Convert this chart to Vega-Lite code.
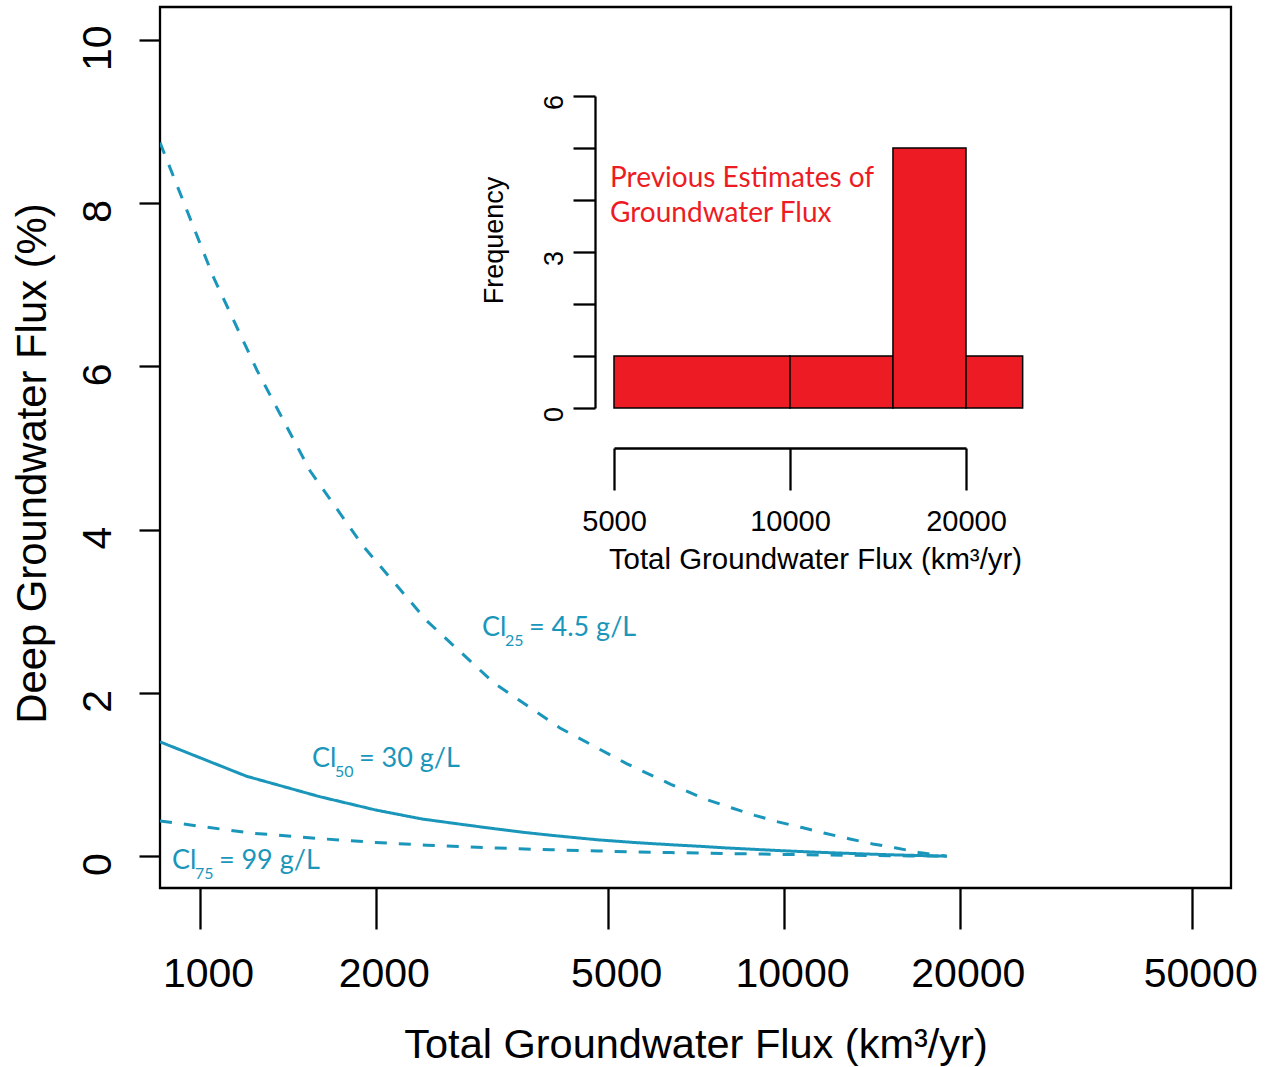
{
  "$schema": "https://vega.github.io/schema/vega-lite/v6.json",
  "width": 1071,
  "height": 881,
  "autosize": {"type": "none"},
  "padding": {"left": 160, "top": 7, "right": 39, "bottom": 179},
  "background": "white",
  "config": {
    "view": {"stroke": "black", "strokeWidth": 2.3},
    "axis": {
      "grid": false,
      "domainColor": "black",
      "tickColor": "black",
      "labelColor": "black",
      "titleColor": "black",
      "tickWidth": 2.3,
      "domainWidth": 2.3,
      "labelFont": "Liberation Sans",
      "titleFont": "Liberation Sans",
      "titleFontWeight": "normal",
      "labelFlush": false,
      "labelOverlap": false
    }
  },
  "layer": [
    {
      "encoding": {
        "x": {
          "field": "x",
          "type": "quantitative",
          "scale": {"type": "log", "domain": [854, 58270], "nice": false, "zero": false},
          "axis": {
            "orient": "bottom",
            "values": [1000, 2000, 5000, 10000, 20000, 50000],
            "format": "d",
            "domain": false,
            "tickSize": 41,
            "labelFontSize": 41,
            "labelBaseline": "alphabetic",
            "labelPadding": 57,
            "labelOffset": 8,
            "title": "Total Groundwater Flux (km³/yr)",
            "titleFontSize": 41.5,
            "titleBaseline": "alphabetic",
            "titleY": 169
          }
        },
        "y": {
          "field": "y",
          "type": "quantitative",
          "scale": {"domain": [-0.39, 10.4], "nice": false, "zero": false},
          "axis": {
            "orient": "left",
            "values": [0, 2, 4, 6, 8, 10],
            "format": "d",
            "domain": false,
            "tickSize": 21,
            "labelAngle": -90,
            "labelAlign": "center",
            "labelBaseline": "alphabetic",
            "labelPadding": 29,
            "labelOffset": 8,
            "labelFontSize": 41,
            "title": "Deep Groundwater Flux (%)",
            "titleFontSize": 41.8,
            "titleAngle": -90,
            "titleAlign": "center",
            "titleBaseline": "alphabetic",
            "titleX": -115,
            "titleY": 456
          }
        }
      },
      "layer": [
        {
          "data": {"values": [
            {"series": "Cl25", "x": 854, "y": 8.74}, {"series": "Cl25", "x": 1053, "y": 7.1}, {"series": "Cl25", "x": 1252, "y": 5.95}, {"series": "Cl25", "x": 1543, "y": 4.72}, {"series": "Cl25", "x": 1901, "y": 3.8}, {"series": "Cl25", "x": 2447, "y": 2.88}, {"series": "Cl25", "x": 3188, "y": 2.12}, {"series": "Cl25", "x": 4134, "y": 1.57}, {"series": "Cl25", "x": 5386, "y": 1.13}, {"series": "Cl25", "x": 6400, "y": 0.88}, {"series": "Cl25", "x": 7324, "y": 0.7}, {"series": "Cl25", "x": 8147, "y": 0.59}, {"series": "Cl25", "x": 8913, "y": 0.5}, {"series": "Cl25", "x": 9766, "y": 0.42}, {"series": "Cl25", "x": 10735, "y": 0.35}, {"series": "Cl25", "x": 11755, "y": 0.28}, {"series": "Cl25", "x": 12972, "y": 0.21}, {"series": "Cl25", "x": 14191, "y": 0.15}, {"series": "Cl25", "x": 15560, "y": 0.1}, {"series": "Cl25", "x": 17030, "y": 0.045}, {"series": "Cl25", "x": 19000, "y": 0},
            {"series": "Cl50", "x": 854, "y": 1.4}, {"series": "Cl50", "x": 1200, "y": 0.98}, {"series": "Cl50", "x": 1600, "y": 0.73}, {"series": "Cl50", "x": 2000, "y": 0.565}, {"series": "Cl50", "x": 2400, "y": 0.455}, {"series": "Cl50", "x": 2800, "y": 0.39}, {"series": "Cl50", "x": 3200, "y": 0.335}, {"series": "Cl50", "x": 3600, "y": 0.29}, {"series": "Cl50", "x": 4000, "y": 0.255}, {"series": "Cl50", "x": 4800, "y": 0.2}, {"series": "Cl50", "x": 5600, "y": 0.165}, {"series": "Cl50", "x": 6400, "y": 0.14}, {"series": "Cl50", "x": 7200, "y": 0.12}, {"series": "Cl50", "x": 8000, "y": 0.1}, {"series": "Cl50", "x": 9200, "y": 0.078}, {"series": "Cl50", "x": 10400, "y": 0.06}, {"series": "Cl50", "x": 11600, "y": 0.046}, {"series": "Cl50", "x": 12800, "y": 0.035}, {"series": "Cl50", "x": 14000, "y": 0.025}, {"series": "Cl50", "x": 15200, "y": 0.017}, {"series": "Cl50", "x": 16400, "y": 0.011}, {"series": "Cl50", "x": 17600, "y": 0.005}, {"series": "Cl50", "x": 19000, "y": 0},
            {"series": "Cl75", "x": 854, "y": 0.43}, {"series": "Cl75", "x": 935, "y": 0.394}, {"series": "Cl75", "x": 1218, "y": 0.284}, {"series": "Cl75", "x": 1600, "y": 0.215}, {"series": "Cl75", "x": 2000, "y": 0.168}, {"series": "Cl75", "x": 2447, "y": 0.135}, {"series": "Cl75", "x": 2800, "y": 0.116}, {"series": "Cl75", "x": 3225, "y": 0.1}, {"series": "Cl75", "x": 3600, "y": 0.088}, {"series": "Cl75", "x": 4000, "y": 0.078}, {"series": "Cl75", "x": 4800, "y": 0.063}, {"series": "Cl75", "x": 5600, "y": 0.052}, {"series": "Cl75", "x": 6400, "y": 0.044}, {"series": "Cl75", "x": 7200, "y": 0.038}, {"series": "Cl75", "x": 8000, "y": 0.032}, {"series": "Cl75", "x": 9200, "y": 0.025}, {"series": "Cl75", "x": 10400, "y": 0.019}, {"series": "Cl75", "x": 11600, "y": 0.014}, {"series": "Cl75", "x": 12800, "y": 0.011}, {"series": "Cl75", "x": 14000, "y": 0.008}, {"series": "Cl75", "x": 15200, "y": 0.005}, {"series": "Cl75", "x": 16400, "y": 0.003}, {"series": "Cl75", "x": 17600, "y": 0.0015}, {"series": "Cl75", "x": 19000, "y": 0}
          ]},
          "mark": {"type": "line", "color": "#1a96bb", "strokeWidth": 3, "clip": true},
          "encoding": {
            "strokeDash": {
              "field": "series",
              "type": "nominal",
              "scale": {"domain": ["Cl25", "Cl50", "Cl75"], "range": [[12, 12], [1, 0], [12, 12]]},
              "legend": null
            }
          }
        },
        {
          "data": {"name": "labels", "values": [
            {"x": 3039, "y": 2.697, "main": "Cl", "sub": "25", "rest": "= 4.5 g/L"},
            {"x": 1555, "y": 1.092, "main": "Cl", "sub": "50", "rest": "= 30 g/L"},
            {"x": 895, "y": -0.157, "main": "Cl", "sub": "75", "rest": "= 99 g/L"}
          ]},
          "layer": [
            {"mark": {"type": "text", "align": "left", "baseline": "alphabetic", "font": "Lato", "fontSize": 27, "color": "#1a96bb"}, "encoding": {"text": {"field": "main"}}},
            {"mark": {"type": "text", "align": "left", "baseline": "alphabetic", "font": "Lato", "fontSize": 16, "color": "#1a96bb", "dx": 23, "dy": 10}, "encoding": {"text": {"field": "sub"}}},
            {"mark": {"type": "text", "align": "left", "baseline": "alphabetic", "font": "Lato", "fontSize": 27, "color": "#1a96bb", "dx": 47}, "encoding": {"text": {"field": "rest"}}}
          ]
        }
      ]
    },
    {
      "encoding": {
        "x": {
          "field": "x",
          "type": "quantitative",
          "scale": {"type": "log", "domain": [5000, 20000], "range": [454, 806], "nice": false, "zero": false},
          "axis": {
            "orient": "bottom",
            "offset": -440,
            "values": [5000, 10000, 20000],
            "format": "d",
            "domain": true,
            "tickSize": 42,
            "labelFontSize": 29,
            "labelBaseline": "alphabetic",
            "labelPadding": 40,
            "title": "Total Groundwater Flux (km³/yr)",
            "titleFontSize": 29.4,
            "titleBaseline": "alphabetic",
            "titleAlign": "center",
            "titleX": 655,
            "titleY": 120
          }
        },
        "y": {
          "field": "y",
          "type": "quantitative",
          "scale": {"domain": [0, 6], "range": [401, 89], "nice": false, "zero": false},
          "axis": {
            "orient": "left",
            "offset": -435,
            "values": [0, 1, 2, 3, 4, 5, 6],
            "labelExpr": "datum.value % 3 == 0 ? datum.label : ''",
            "domain": true,
            "tickSize": 22,
            "labelAngle": -90,
            "labelAlign": "center",
            "labelBaseline": "alphabetic",
            "labelPadding": 11,
            "labelOffset": 6,
            "labelFontSize": 27,
            "title": "Frequency",
            "titleFontSize": 27,
            "titleAngle": -90,
            "titleAlign": "center",
            "titleBaseline": "alphabetic",
            "titleX": -93,
            "titleY": 233
          }
        }
      },
      "layer": [
        {
          "data": {"values": [
            {"x": 5000, "x2": 10000, "y": 1},
            {"x": 10000, "x2": 15000, "y": 1},
            {"x": 15000, "x2": 20000, "y": 5},
            {"x": 20000, "x2": 25000, "y": 1}
          ]},
          "mark": {"type": "bar", "color": "#ED1C24", "stroke": "black", "strokeWidth": 1.5},
          "encoding": {"x2": {"field": "x2"}, "y2": {"datum": 0}}
        },
        {
          "data": {"values": [
            {"x": 4922, "y": 4.25, "t": "Previous Estimates of"},
            {"x": 4922, "y": 3.577, "t": "Groundwater Flux"}
          ]},
          "mark": {"type": "text", "align": "left", "baseline": "alphabetic", "font": "Lato", "fontSize": 28, "color": "#ED1C24"},
          "encoding": {"text": {"field": "t"}}
        }
      ]
    }
  ],
  "resolve": {"scale": {"x": "independent", "y": "independent"}, "axis": {"x": "independent", "y": "independent"}}
}
